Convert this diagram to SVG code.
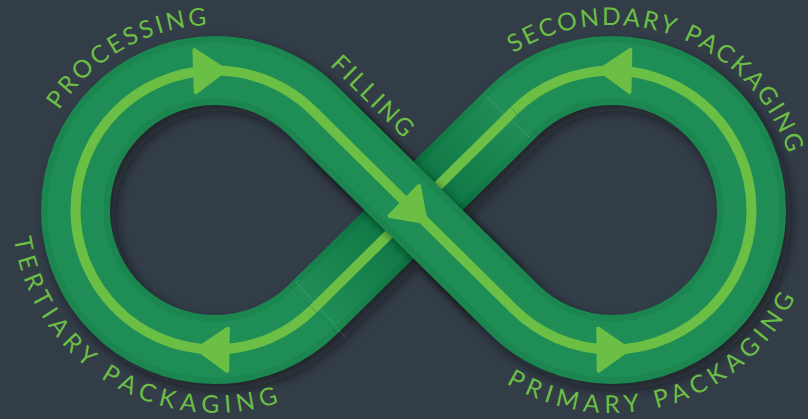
<svg xmlns="http://www.w3.org/2000/svg" width="808" height="419" viewBox="0 0 808 419">
  <defs>
    <style>
      .edge { fill: none; stroke: #1b8650; stroke-width: 69; }
      .main { fill: none; stroke: #1f8d56; stroke-width: 56; }
      .line { fill: none; stroke: #6bbf45; stroke-width: 10; }
      .arrow { fill: #6bbf45; stroke: #6bbf45; stroke-width: 4; stroke-linejoin: round; }
      .seam { stroke: #9fd7b0; stroke-width: 0.8; stroke-opacity: 0.45; stroke-dasharray: 2 1.5; }
      .label { font-family: Lato, "Open Sans", sans-serif; font-size: 24.5px; fill: #6bbf45; }
    </style>
    <filter id="blur6" x="-20%" y="-20%" width="140%" height="140%">
      <feGaussianBlur stdDeviation="6"/>
    </filter>
    <filter id="blur4" x="-30%" y="-30%" width="160%" height="160%">
      <feGaussianBlur stdDeviation="4"/>
    </filter>
    <linearGradient id="underEdge" gradientUnits="userSpaceOnUse" x1="508" y1="117" x2="319" y2="303">
      <stop offset="0" stop-color="#1b8650"/>
      <stop offset="0.3" stop-color="#0f7544"/>
      <stop offset="0.5" stop-color="#006234"/>
      <stop offset="0.7" stop-color="#0f7544"/>
      <stop offset="1" stop-color="#1b8650"/>
    </linearGradient>
    <linearGradient id="underMain" gradientUnits="userSpaceOnUse" x1="508" y1="117" x2="319" y2="303">
      <stop offset="0" stop-color="#1f8d56"/>
      <stop offset="0.3" stop-color="#137c49"/>
      <stop offset="0.5" stop-color="#006a3a"/>
      <stop offset="0.7" stop-color="#137c49"/>
      <stop offset="1" stop-color="#1f8d56"/>
    </linearGradient>
    <path id="tp-processing" d="M 30.0 208.4 A 185 185 0 0 1 308.9 50.6"/>
    <path id="tp-filling" d="M 296.4 32.4 L 438.8 173"/>
    <path id="tp-secondary" d="M 494.0 67.5 A 185 185 0 0 1 794.2 179.0"/>
    <path id="tp-tertiary" d="M 12.0 206.5 A 203 203 0 0 0 313.4 387.5"/>
    <path id="tp-primary" d="M 474.3 359.2 A 203 203 0 0 0 810.0 254.6"/>
  </defs>

  <rect x="0" y="0" width="808" height="419" fill="#333d48"/>

  <g id="connectors">
    <path d="M 313.04 309.24 A 139.5 139.5 0 1 1 313.04 110.76 L 513.96 309.24 A 139.5 139.5 0 1 0 513.96 110.76 Z" fill="none" stroke="#0c1015" stroke-width="69" stroke-opacity="0.6" transform="translate(5,6)" filter="url(#blur6)"/>

    <g id="under-strand">
      <path d="M 513.96 110.76 L 313.04 309.24" fill="none" stroke="url(#underEdge)" stroke-width="69"/>
      <path d="M 513.96 110.76 L 313.04 309.24" fill="none" stroke="url(#underMain)" stroke-width="56"/>
      <path class="line" d="M 513.96 110.76 L 313.04 309.24"/>
    </g>

    <path d="M 330 127.5 L 497 292.5" fill="none" stroke="#001a0c" stroke-width="69" stroke-opacity="0.5" transform="translate(3,4)" filter="url(#blur4)"/>

    <g id="over-path">
      <path class="edge" d="M 313.04 309.24 A 139.5 139.5 0 1 1 313.04 110.76 L 513.96 309.24 A 139.5 139.5 0 1 0 513.96 110.76"/>
      <path class="main" d="M 313.04 309.24 A 139.5 139.5 0 1 1 313.04 110.76 L 513.96 309.24 A 139.5 139.5 0 1 0 513.96 110.76"/>
      <path class="line" d="M 313.04 309.24 A 139.5 139.5 0 1 1 313.04 110.76 L 513.96 309.24 A 139.5 139.5 0 1 0 513.96 110.76"/>
    </g>

    <line class="seam" x1="296" y1="282" x2="346" y2="338"/>
    <line class="seam" x1="485" y1="95" x2="530" y2="138"/>

    <g id="arrows">
      <polygon class="arrow" points="-15,-21 -15,21 15,0" transform="translate(210.1,70.6) rotate(-2)"/>
      <polygon class="arrow" points="-15,-21 -15,21 15,0" transform="translate(415,211.5) rotate(44.6)"/>
      <polygon class="arrow" points="-15,-21 -15,21 15,0" transform="translate(613.5,349.5) rotate(-0.6)"/>
      <polygon class="arrow" points="-15,-21 -15,21 15,0" transform="translate(614.9,70.5) rotate(181.2)"/>
      <polygon class="arrow" points="-15,-21 -15,21 15,0" transform="translate(212.5,349.5) rotate(181)"/>
    </g>
  </g>

  <g id="node-processing">
    <text class="label" letter-spacing="3"><textPath href="#tp-processing" startOffset="50%" text-anchor="middle">PROCESSING</textPath></text>
  </g>
  <g id="node-filling">
    <text class="label" letter-spacing="2.5"><textPath href="#tp-filling" startOffset="50%" text-anchor="middle">FILLING</textPath></text>
  </g>
  <g id="node-secondary-packaging">
    <text class="label" letter-spacing="2.5"><textPath href="#tp-secondary" startOffset="50%" text-anchor="middle">SECONDARY PACKAGING</textPath></text>
  </g>
  <g id="node-primary-packaging">
    <text class="label" letter-spacing="5.5"><textPath href="#tp-primary" startOffset="50%" text-anchor="middle">PRIMARY PACKAGING</textPath></text>
  </g>
  <g id="node-tertiary-packaging">
    <text class="label" letter-spacing="5.8"><textPath href="#tp-tertiary" startOffset="50%" text-anchor="middle">TERTIARY PACKAGING</textPath></text>
  </g>
</svg>
